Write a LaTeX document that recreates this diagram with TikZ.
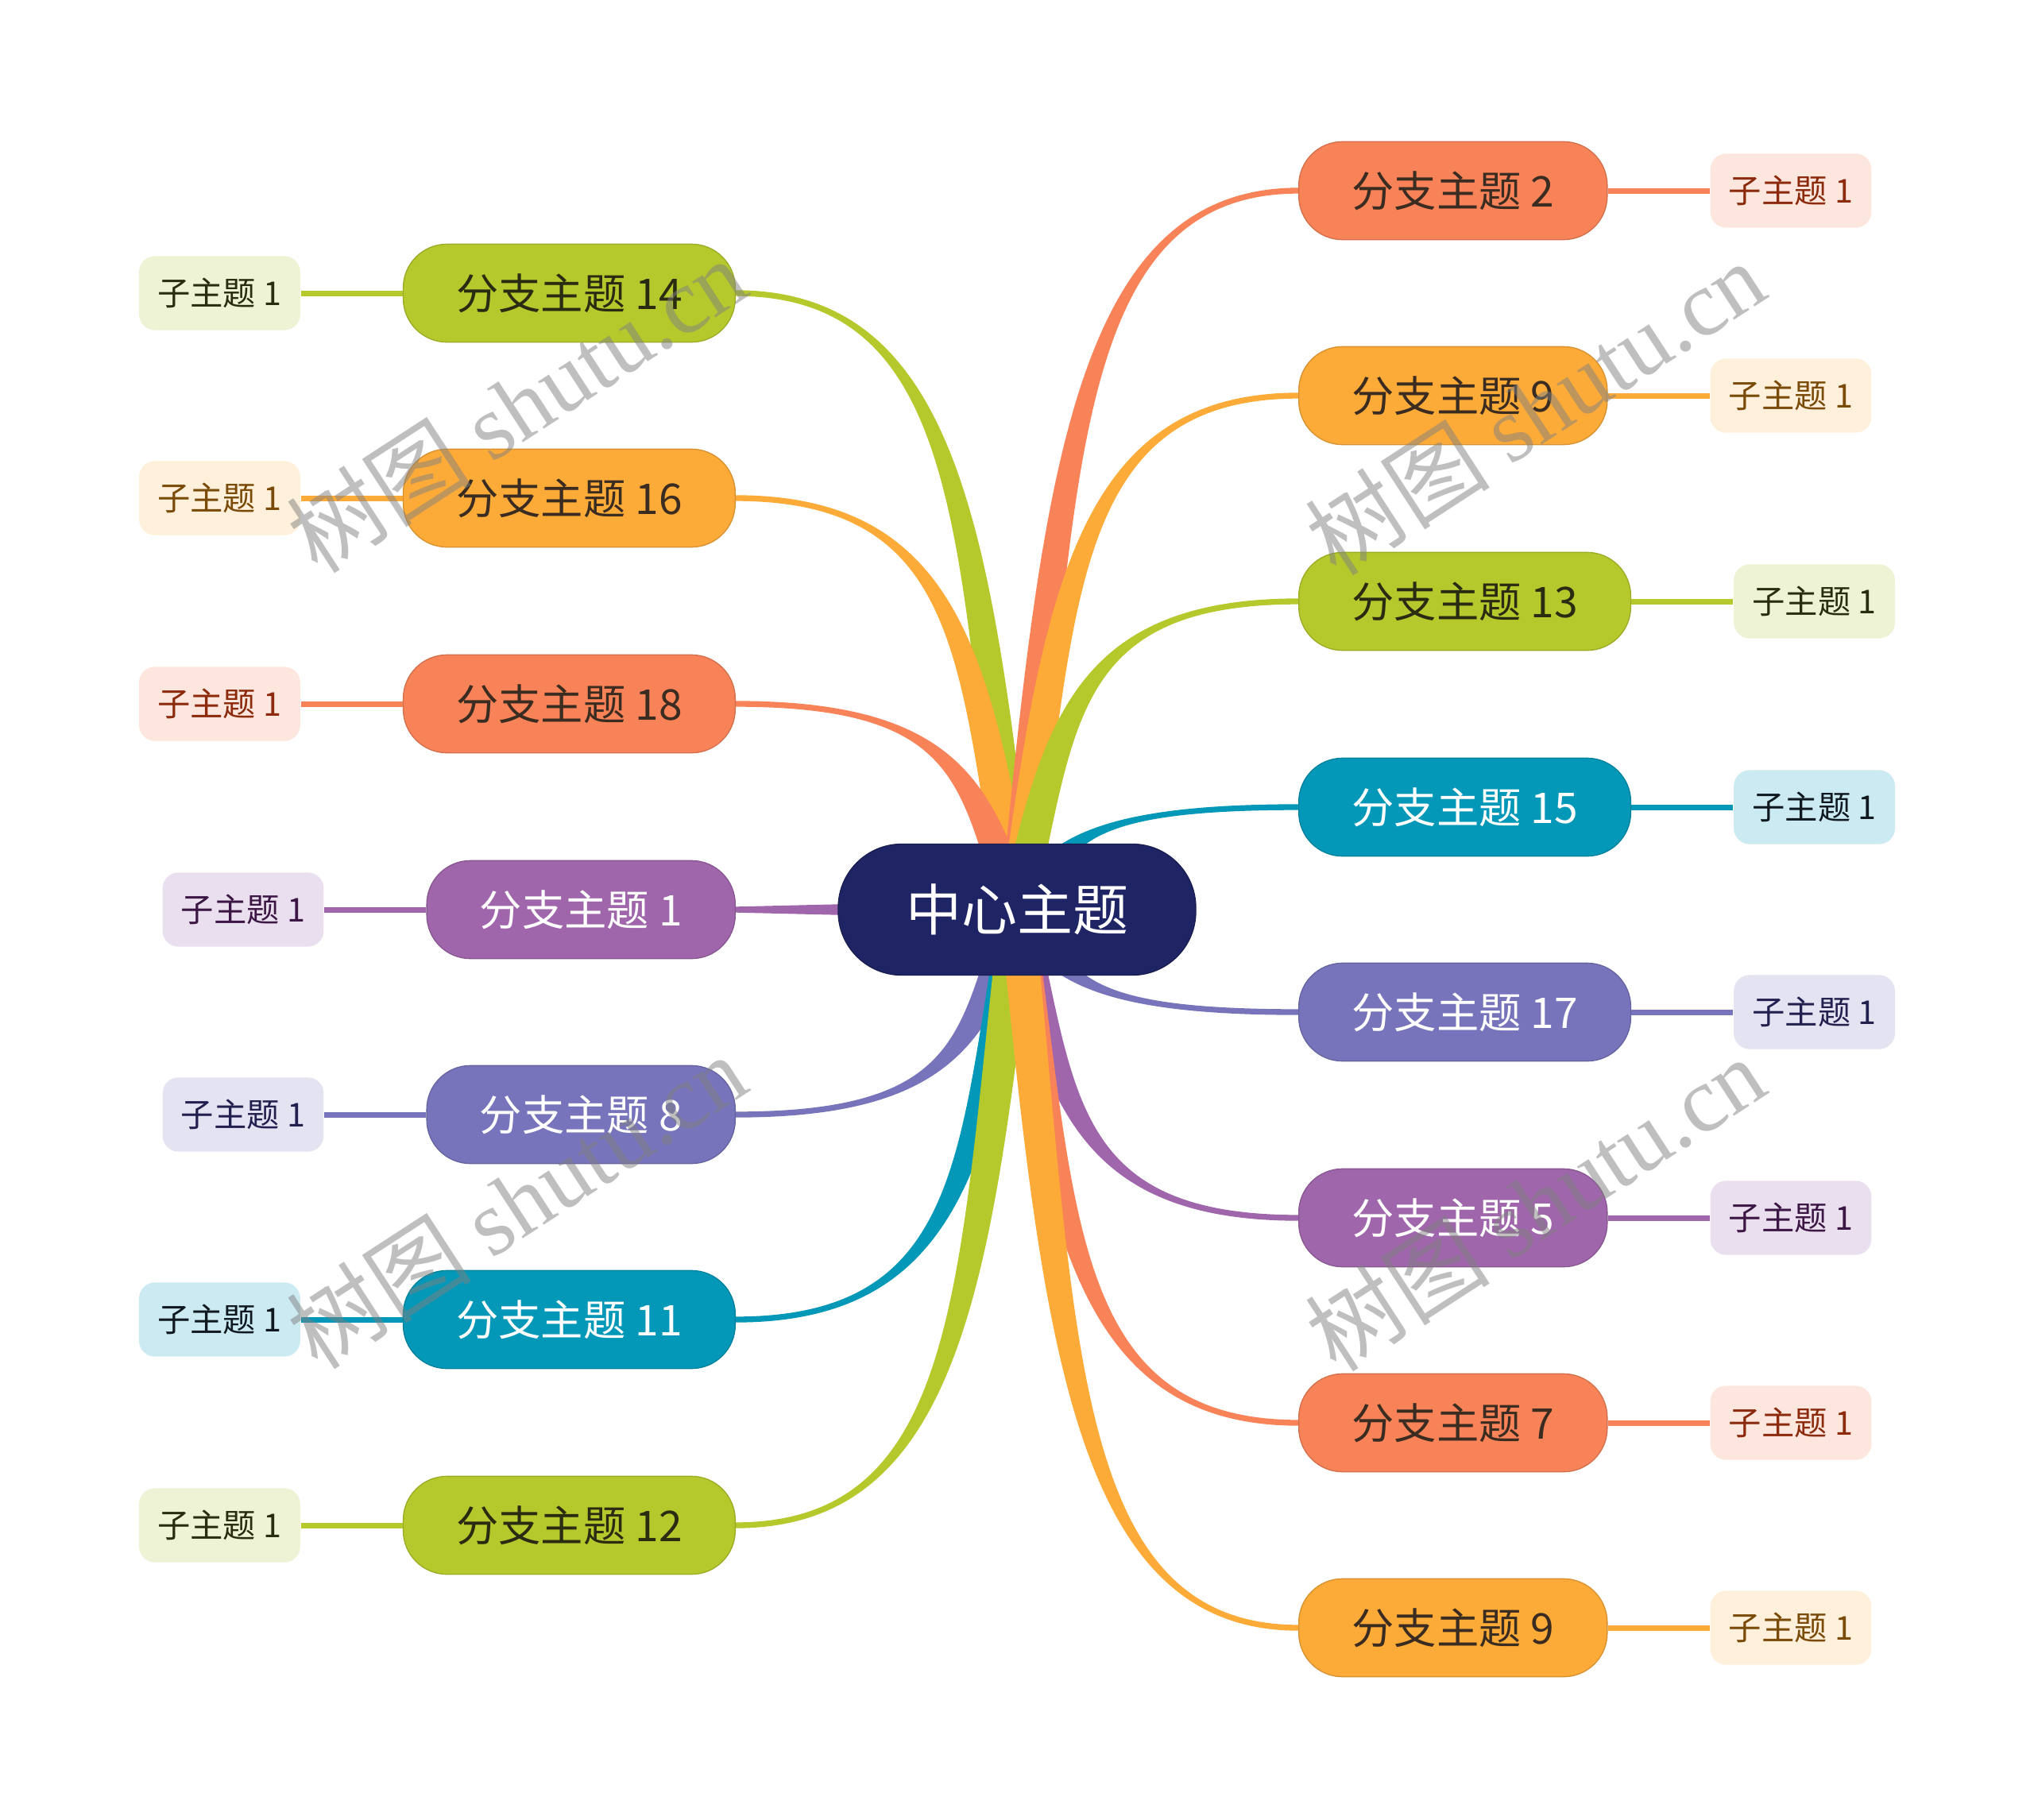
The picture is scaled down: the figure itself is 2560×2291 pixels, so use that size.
\documentclass[tikz,border=0pt]{standalone}
\usepackage{fontspec}
\setmainfont{Noto Sans CJK SC}
\newfontfamily\wmfont{Liberation Serif}
\usetikzlibrary{positioning, calc, backgrounds}
\definecolor{mapNavy}{HTML}{1F2464}
\definecolor{mapOrange}{HTML}{F88358}
\definecolor{mapAmber}{HTML}{FDAB38}
\definecolor{mapGreen}{HTML}{B6C92C}
\definecolor{mapTeal}{HTML}{0398B8}
\definecolor{mapPurple}{HTML}{A066AB}
\definecolor{mapSlate}{HTML}{7774BC}
\definecolor{paleOrange}{HTML}{FDE6DD}
\definecolor{paleAmber}{HTML}{FEF0DA}
\definecolor{paleGreen}{HTML}{EFF3D5}
\definecolor{paleTeal}{HTML}{CCEAF2}
\definecolor{palePurple}{HTML}{EADFEE}
\definecolor{paleSlate}{HTML}{E4E3F2}
\definecolor{inkBrown}{HTML}{3A2C20}
\definecolor{inkOlive}{HTML}{2A2C12}
\definecolor{inkRed}{HTML}{8B2A0C}
\definecolor{inkAmber}{HTML}{7A4A08}
\definecolor{inkTeal}{HTML}{101820}
\definecolor{inkPurple}{HTML}{3C1645}
\definecolor{inkSlate}{HTML}{22204F}
\tikzset{
  centre/.style={rectangle, rounded corners=24pt, fill=mapNavy, draw=mapNavy!80!black,
                 text=white, font=\fontsize{21}{24}\selectfont, minimum width=135pt,
                 minimum height=49.5pt, inner sep=0pt},
  branch/.style={rectangle, rounded corners=16.5pt, minimum height=37pt, inner xsep=20pt,
                 inner ysep=0pt, font=\fontsize{16}{19}\selectfont, line width=0.4pt},
  brOrange/.style={branch, fill=mapOrange, draw=mapOrange!85!black, text=inkBrown},
  brAmber/.style={branch, fill=mapAmber, draw=mapAmber!85!black, text=inkBrown},
  brGreen/.style={branch, fill=mapGreen, draw=mapGreen!85!black, text=inkOlive},
  brTeal/.style={branch, fill=mapTeal, draw=mapTeal!85!black, text=white},
  brPurple/.style={branch, fill=mapPurple, draw=mapPurple!85!black, text=white},
  brSlate/.style={branch, fill=mapSlate, draw=mapSlate!85!black, text=white},
  sub/.style={rectangle, rounded corners=6pt, minimum height=28pt, inner xsep=7pt,
              inner ysep=0pt, font=\fontsize{12.4}{14}\selectfont},
  subOrange/.style={sub, fill=paleOrange, text=inkRed},
  subAmber/.style={sub, fill=paleAmber, text=inkAmber},
  subGreen/.style={sub, fill=paleGreen, text=inkOlive},
  subTeal/.style={sub, fill=paleTeal, text=inkTeal},
  subPurple/.style={sub, fill=palePurple, text=inkPurple},
  subSlate/.style={sub, fill=paleSlate, text=inkSlate},
  twig/.style={line width=2.1pt},
  watermark/.style={text=black!50, text opacity=0.5, rotate=33,
                    font=\fontsize{35}{38}\selectfont},
}
% tapered ribbon from the centre to a branch: colour, node, anchor, end offset
\newcommand{\ribbon}[4]{%
  \fill[#1] let \p1=(ctr.center), \p2=(#2.#3) in
    ({\x1+6.5pt},\y1)
    .. controls ({\x1+0.15*\x2-0.15*\x1+6.5pt}, {\y1+0.6*\y2-0.6*\y1})
       and ({\x1+0.2*\x2-0.2*\x1}, {\y2+(#4)}) .. (\x2,{\y2+(#4)})
    -- (\x2,{\y2-(#4)})
    .. controls ({\x1+0.2*\x2-0.2*\x1}, {\y2-(#4)})
       and ({\x1+0.15*\x2-0.15*\x1-6.5pt}, {\y1+0.6*\y2-0.6*\y1}) .. ({\x1-6.5pt},\y1)
    -- cycle;}

\begin{document}
\begin{tikzpicture}[x=0.3pt, y=-0.3pt, node distance=38.5pt]
    \useasboundingbox (0,0) rectangle (2560,2291);
    \node[centre] (ctr) at (1280,1145) {中心主题};

    % left side
    \node[brGreen, anchor=east]  (b14) at (926,369)  {分支主题 14};
    \node[brAmber, anchor=east]  (b16) at (926,627)  {分支主题 16};
    \node[brOrange, anchor=east] (b18) at (926,886)  {分支主题 18};
    \node[brPurple, anchor=east] (b1)  at (926,1145) {分支主题 1};
    \node[brSlate, anchor=east]  (b8)  at (926,1403) {分支主题 8};
    \node[brTeal, anchor=east]   (b11) at (926,1661) {分支主题 11};
    \node[brGreen, anchor=east]  (b12) at (926,1920) {分支主题 12};

    \node[subGreen, left=of b14]  (s14) {子主题 1};
    \node[subAmber, left=of b16]  (s16) {子主题 1};
    \node[subOrange, left=of b18] (s18) {子主题 1};
    \node[subPurple, left=of b1]  (s1)  {子主题 1};
    \node[subSlate, left=of b8]   (s8)  {子主题 1};
    \node[subTeal, left=of b11]   (s11) {子主题 1};
    \node[subGreen, left=of b12]  (s12) {子主题 1};

    % right side
    \node[brOrange, anchor=west] (b2)  at (1634,240)  {分支主题 2};
    \node[brAmber, anchor=west]  (b9a) at (1634,498)  {分支主题 9};
    \node[brGreen, anchor=west]  (b13) at (1634,757)  {分支主题 13};
    \node[brTeal, anchor=west]   (b15) at (1634,1016) {分支主题 15};
    \node[brSlate, anchor=west]  (b17) at (1634,1274) {分支主题 17};
    \node[brPurple, anchor=west] (b5)  at (1634,1533) {分支主题 5};
    \node[brOrange, anchor=west] (b7)  at (1634,1791) {分支主题 7};
    \node[brAmber, anchor=west]  (b9b) at (1634,2049) {分支主题 9};

    \node[subOrange, right=of b2]  (s2)  {子主题 1};
    \node[subAmber, right=of b9a]  (s9a) {子主题 1};
    \node[subGreen, right=of b13]  (s13) {子主题 1};
    \node[subTeal, right=of b15]   (s15) {子主题 1};
    \node[subSlate, right=of b17]  (s17) {子主题 1};
    \node[subPurple, right=of b5]  (s5)  {子主题 1};
    \node[subOrange, right=of b7]  (s7)  {子主题 1};
    \node[subAmber, right=of b9b]  (s9b) {子主题 1};

    \begin{scope}[on background layer]
      \ribbon{mapGreen}{b14}{east}{1.1pt}
      \ribbon{mapAmber}{b16}{east}{1.1pt}
      \ribbon{mapOrange}{b18}{east}{1.1pt}
      \ribbon{mapSlate}{b8}{east}{-1.1pt}
      \ribbon{mapTeal}{b11}{east}{-1.1pt}
      \ribbon{mapGreen}{b12}{east}{-1.1pt}
      \ribbon{mapOrange}{b2}{west}{-1.1pt}
      \ribbon{mapAmber}{b9a}{west}{-1.1pt}
      \ribbon{mapGreen}{b13}{west}{-1.1pt}
      \ribbon{mapTeal}{b15}{west}{-1.1pt}
      \ribbon{mapSlate}{b17}{west}{1.1pt}
      \ribbon{mapPurple}{b5}{west}{1.1pt}
      \ribbon{mapOrange}{b7}{west}{1.1pt}
      \ribbon{mapAmber}{b9b}{west}{1.1pt}
      \fill[mapPurple] ($(ctr.center)+(0,3.6pt)$) -- ($(b1.east)+(0,1.1pt)$)
        -- ($(b1.east)+(0,-1.1pt)$) -- ($(ctr.center)+(0,-3.6pt)$) -- cycle;

      \draw[twig, mapGreen] (b14) -- (s14);  \draw[twig, mapAmber] (b16) -- (s16);
      \draw[twig, mapOrange] (b18) -- (s18); \draw[twig, mapPurple] (b1) -- (s1);
      \draw[twig, mapSlate] (b8) -- (s8);    \draw[twig, mapTeal] (b11) -- (s11);
      \draw[twig, mapGreen] (b12) -- (s12);
      \draw[twig, mapOrange] (b2) -- (s2);   \draw[twig, mapAmber] (b9a) -- (s9a);
      \draw[twig, mapGreen] (b13) -- (s13);  \draw[twig, mapTeal] (b15) -- (s15);
      \draw[twig, mapSlate] (b17) -- (s17);  \draw[twig, mapPurple] (b5) -- (s5);
      \draw[twig, mapOrange] (b7) -- (s7);   \draw[twig, mapAmber] (b9b) -- (s9b);
    \end{scope}

    % watermarks
    \node[watermark] (wm1) at (650,510)  {树图 {\wmfont shutu.cn}};
    \node[watermark] (wm2) at (1932,513) {树图 {\wmfont shutu.cn}};
    \node[watermark] (wm3) at (650,1512) {树图 {\wmfont shutu.cn}};
    \node[watermark] (wm4) at (1932,1515) {树图 {\wmfont shutu.cn}};
  \end{tikzpicture}
\end{document}
